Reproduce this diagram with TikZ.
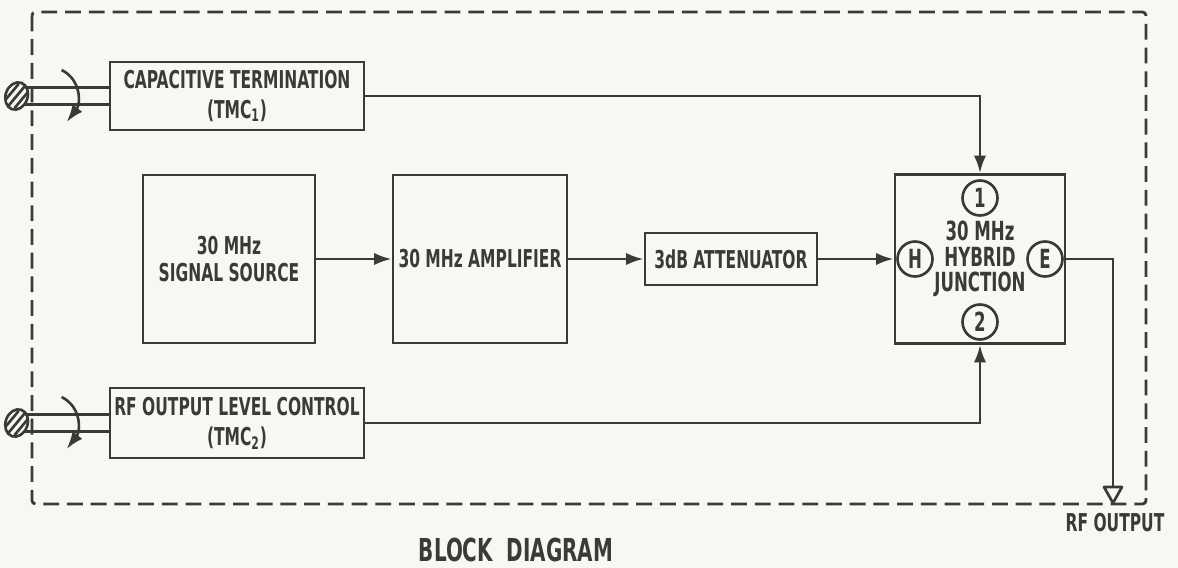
\documentclass[tikz,border=0pt]{standalone}
\usepackage{fontspec}
\setmainfont{DejaVu Sans Condensed}[FakeStretch=0.7]
\usetikzlibrary{arrows.meta}

\definecolor{ink}{HTML}{3A3A3A}
\definecolor{paper}{HTML}{F8F8F3}

\tikzset{
    blk/.style={draw=ink, line width=1.6pt, inner sep=2pt, align=center, text=ink,
        font=\bfseries\fontsize{14}{17}\selectfont},
    port/.style={circle, draw=ink, line width=1.5pt, minimum size=0.7cm, inner sep=0pt,
        text=ink, font=\bfseries\fontsize{15}{15}\selectfont},
    wire/.style={ink, line width=1.5pt},
    lbl/.style={text=ink, font=\bfseries\fontsize{14}{14}\selectfont},
    >={Latex[length=10pt,width=7pt]}
}

\begin{document}
\begin{tikzpicture}[x=0.02cm, y=-0.02cm]
    % Paper and bounding box
        \fill[paper] (0,0) rectangle (1178,568);
        \useasboundingbox (0,0) rectangle (1178,568);

        % Enclosure
        \draw[ink, line width=1.6pt, dash pattern=on 9pt off 4.5pt, rounded corners=2pt] (32,12) rectangle (1146,504);

        % Blocks
        \node[blk, minimum width=5.08cm, minimum height=1.36cm] (cap) at (237,96) {CAPACITIVE TERMINATION\\(TMC\textsubscript{1})};
        \node[blk, minimum width=3.44cm, minimum height=3.36cm, font=\bfseries\fontsize{14}{15.5}\selectfont] (src) at (229,259) {30 MHz\\SIGNAL SOURCE};
        \node[blk, minimum width=3.48cm, minimum height=3.36cm] (amp) at (480,259) {30 MHz AMPLIFIER};
        \node[blk, minimum width=3.44cm, minimum height=1.04cm] (att) at (731,259) {3dB ATTENUATOR};
        \node[blk, minimum width=3.4cm, minimum height=3.38cm, font=\bfseries\fontsize{15}{14.5}\selectfont] (hyb) at (980,259) {30 MHz\\HYBRID\\JUNCTION};
        \node[blk, minimum width=5.08cm, minimum height=1.4cm] (lvl) at (237,423) {RF OUTPUT LEVEL CONTROL\\(TMC\textsubscript{2})};

        % Ports of the hybrid junction
        \node[port] (p1) at (980,198) {1};
        \node[port] (pH) at (915,259) {H};
        \node[port] (pE) at (1045,259) {E};
        \node[port] (p2) at (980,322) {2};

        % Signal path
        \draw[wire, ->] (cap.east) -| (hyb.north);
        \draw[wire, ->] (src) -- (amp);
        \draw[wire, ->] (amp) -- (att);
        \draw[wire, ->] (att) -- (hyb);
        \draw[wire, ->] (lvl.east) -| (hyb.south);

        % RF output
        \coordinate (out) at (1113,487);
        \draw[wire] (hyb.east) -| (out);
        \draw[wire, line join=round] (out) -- ++(-9,0) -- ++(9,16) -- ++(9,-16) -- cycle;
        \node[lbl] (rfo) at (1115,523) {RF OUTPUT};

        % Control knobs
        \foreach \nm in {cap,lvl}{
            \path (\nm.west) ++(-92,0) coordinate (kn);
            \draw[wire] ([yshift=0.17cm]\nm.west) -- ([yshift=0.17cm]kn);
            \draw[wire] ([yshift=-0.17cm]\nm.west) -- ([yshift=-0.17cm]kn);
            \draw[wire, fill=paper, rotate around={-20:(kn)}] (kn) ellipse [x radius=11, y radius=14];
            \begin{scope}
                \clip[rotate around={-20:(kn)}] (kn) ellipse [x radius=11, y radius=14];
                \foreach \d in {-8,0,8}
                    \draw[wire] (kn) ++(\d-10,12) -- ++(20,-24);
            \end{scope}
            \draw[wire, ->] (kn) ++(45,-26) .. controls +(20,10) and +(14,-18) .. ++(5,52);
        }

        % Caption
        \node[lbl, font=\bfseries\fontsize{18}{18}\selectfont] (title) at (516,550) {BLOCK\ \ DIAGRAM};

    \end{tikzpicture}
\end{document}
